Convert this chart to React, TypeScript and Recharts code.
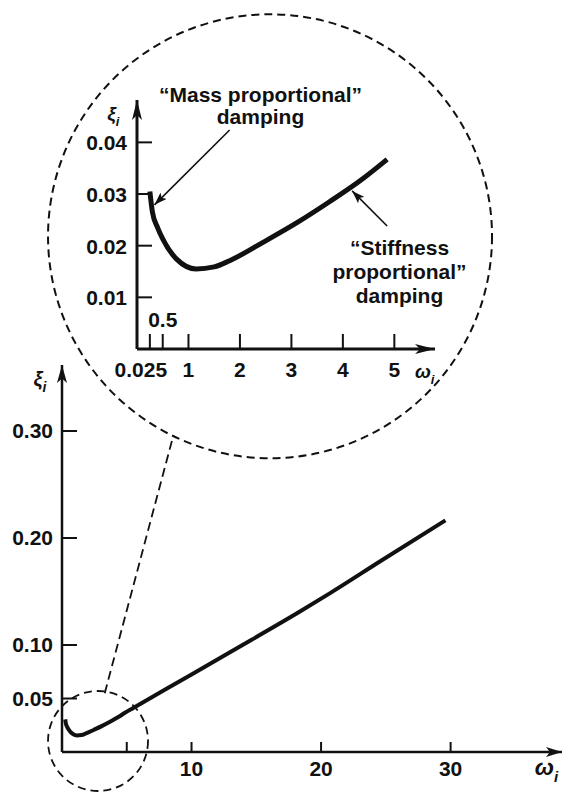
import React from "react";
import { LineChart, Line, XAxis, YAxis, ReferenceDot, ReferenceLine } from "recharts";

// Curve: frequency omega_i and damping ratio xi_i
const curveOmega = [0.25, 0.3, 0.4, 0.5, 0.77, 1.15, 1.5, 1.8, 2.44, 3.1, 3.74, 4.38, 4.86, 5.5, 10.0, 13.0, 18.4, 20.7, 24.6, 29.6];
const curveXi = [0.0305, 0.0265, 0.0235, 0.0213, 0.0174, 0.0155, 0.0159, 0.0171, 0.0206, 0.0244, 0.0285, 0.0329, 0.0367, 0.0412, 0.0725, 0.0935, 0.1315, 0.1485, 0.1785, 0.2165];
const insetOmegaMax = 4.86;

// Main chart ticks
const mainXTicks = [5, 10, 20, 30];
const mainXLabels = ["", "10", "20", "30"];
const mainYTicks = [0.05, 0.1, 0.2, 0.3];
const mainYLabels = ["0.05", "0.10", "0.20", "0.30"];

// Inset ticks
const insetXTicks = [0.25, 0.5, 1, 2, 3, 4, 5];
const insetXLabels = ["0.025", "0.5", "1", "2", "3", "4", "5"];
const insetYTicks = [0.01, 0.02, 0.03, 0.04];
const insetYLabels = ["0.01", "0.02", "0.03", "0.04"];

// Annotation texts
const massLines = ["\u201CMass proportional\u201D", "damping"];
const stiffLines = ["\u201CStiffness", "proportional\u201D", "damping"];

const mainData = curveOmega.map((w, i) => ({ w, xi: curveXi[i] }));
const insetData = mainData.filter((d) => d.w <= insetOmegaMax);

const FONT = "'Liberation Sans', Arial, Helvetica, sans-serif";
const INK = "#111";

const lab = (ticks: number[], labels: string[], v: number) => {
  const i = ticks.findIndex((t) => Math.abs(t - v) < 1e-9);
  return i >= 0 ? labels[i] : "";
};

const MainXTick = (p: any) => {
  const { x, y, payload } = p;
  const t = lab(mainXTicks, mainXLabels, payload.value);
  return (
    <g>
      <line x1={x} y1={y} x2={x} y2={y - 10} stroke={INK} strokeWidth={2} />
      {t && (
        <text x={x} y={y + 24} textAnchor="middle" fontSize={21} fontWeight="bold" fontFamily={FONT} fill={INK}>
          {t}
        </text>
      )}
    </g>
  );
};

const MainYTick = (p: any) => {
  const { x, y, payload } = p;
  const t = lab(mainYTicks, mainYLabels, payload.value);
  return (
    <g>
      <line x1={x} y1={y} x2={x + 15} y2={y} stroke={INK} strokeWidth={2} />
      <text x={x - 9} y={y + 7} textAnchor="end" fontSize={21} fontWeight="bold" fontFamily={FONT} fill={INK}>
        {t}
      </text>
    </g>
  );
};

const InsetXTick = (p: any) => {
  const { x, y, payload } = p;
  const v = payload.value;
  const t = lab(insetXTicks, insetXLabels, v);
  let tx = x;
  let ty = y + 28;
  if (Math.abs(v - 0.25) < 1e-9) tx = x - 9;
  if (Math.abs(v - 0.5) < 1e-9) ty = y - 22;
  return (
    <g>
      <line x1={x} y1={y} x2={x} y2={y - 15} stroke={INK} strokeWidth={2} />
      <text x={tx} y={ty} textAnchor="middle" fontSize={21} fontWeight="bold" fontFamily={FONT} fill={INK}>
        {t}
      </text>
    </g>
  );
};

const InsetYTick = (p: any) => {
  const { x, y, payload } = p;
  const t = lab(insetYTicks, insetYLabels, payload.value);
  return (
    <g>
      <line x1={x} y1={y} x2={x + 15} y2={y} stroke={INK} strokeWidth={2} />
      <text x={x - 10} y={y + 8} textAnchor="end" fontSize={21} fontWeight="bold" fontFamily={FONT} fill={INK}>
        {t}
      </text>
    </g>
  );
};

const arrowRight = (len: number, half: number) => (p: any) => (
  <polygon
    points={`${p.cx},${p.cy} ${p.cx - len},${p.cy - half} ${p.cx - len * 0.75},${p.cy} ${p.cx - len},${p.cy + half}`}
    fill={INK}
  />
);
const arrowUp = (len: number, half: number) => (p: any) => (
  <polygon
    points={`${p.cx},${p.cy} ${p.cx - half},${p.cy + len} ${p.cx},${p.cy + len * 0.75} ${p.cx + half},${p.cy + len}`}
    fill={INK}
  />
);

const textBlock = (lines: string[], gap: number) => (p: any) => (
  <g>
    {lines.map((l, i) => (
      <text key={i} x={p.cx} y={p.cy + i * gap} textAnchor="middle" fontSize={21} fontWeight="bold" fontFamily={FONT} fill={INK}>
        {l}
      </text>
    ))}
  </g>
);

const symLabel = (sym: string, size: number, sub: number) => (p: any) => (
  <text x={p.cx} y={p.cy} fontSize={size} fontStyle="italic" fontWeight="bold" fontFamily={FONT} fill={INK}>
    {sym}
    <tspan fontSize={sub} dy={sub * 0.45}>i</tspan>
  </text>
);

export default function App() {
  return (
    <div style={{ position: "absolute", left: 0, top: 0, width: 573, height: 793, background: "#fff" }}>
      <div style={{ position: "absolute", left: 0, top: 0 }}>
        <LineChart width={573} height={793} data={mainData} margin={{ top: 365, right: 11, bottom: 0, left: 0 }}>
          <XAxis
            dataKey="w"
            type="number"
            domain={[0, 38.6]}
            ticks={mainXTicks}
            interval={0}
            tickSize={0}
            tickMargin={0}
            tickLine={false}
            tick={<MainXTick />}
            height={41}
            axisLine={{ stroke: INK, strokeWidth: 2.5 }}
          />
          <YAxis
            type="number"
            domain={[0, 0.3617]}
            ticks={mainYTicks}
            interval={0}
            tickSize={0}
            tickMargin={0}
            tickLine={false}
            tick={<MainYTick />}
            width={62}
            axisLine={{ stroke: INK, strokeWidth: 2.5 }}
          />
          <ReferenceDot x={16.06} y={0.482} r={222} fill="none" stroke={INK} strokeWidth={2} strokeDasharray="8 5" ifOverflow="visible" />
          <ReferenceDot x={2.78} y={0.0103} r={50} fill="none" stroke={INK} strokeWidth={1.8} strokeDasharray="8 5" ifOverflow="visible" />
          <ReferenceLine
            segment={[{ x: 3.3, y: 0.055 }, { x: 8.6, y: 0.296 }]}
            stroke={INK}
            strokeWidth={1.8}
            strokeDasharray="9 5"
            ifOverflow="visible"
          />
          <Line dataKey="xi" type="monotone" stroke={INK} strokeWidth={4} dot={false} isAnimationActive={false} />
          <ReferenceDot x={38.6} y={0} r={1} shape={arrowRight(16, 5)} ifOverflow="visible" />
          <ReferenceDot x={0} y={0.3617} r={1} shape={arrowUp(18, 5)} ifOverflow="visible" />
          <ReferenceDot x={-2.2} y={0.342} r={1} shape={symLabel("\u03BE", 20, 14)} ifOverflow="visible" />
          <ReferenceDot x={36.5} y={-0.0215} r={1} shape={symLabel("\u03C9", 23, 15)} ifOverflow="visible" />
        </LineChart>
      </div>
      <div style={{ position: "absolute", left: 0, top: 0, pointerEvents: "none" }}>
        <LineChart width={573} height={400} data={insetData} margin={{ top: 100, right: 138, bottom: 0, left: 0 }}>
          <defs>
            <marker id="ah" markerWidth="13" markerHeight="9" refX="13" refY="4.5" orient="auto" markerUnits="userSpaceOnUse">
              <path d="M0,0 L13,4.5 L0,9 L3,4.5 z" fill={INK} />
            </marker>
          </defs>
          <XAxis
            dataKey="w"
            type="number"
            domain={[0, 5.79]}
            ticks={insetXTicks}
            interval={0}
            tickSize={0}
            tickMargin={0}
            tickLine={false}
            tick={<InsetXTick />}
            height={51}
            axisLine={{ stroke: INK, strokeWidth: 3 }}
          />
          <YAxis
            type="number"
            domain={[0, 0.0482]}
            ticks={insetYTicks}
            interval={0}
            tickSize={0}
            tickMargin={0}
            tickLine={false}
            tick={<InsetYTick />}
            width={137}
            axisLine={{ stroke: INK, strokeWidth: 3 }}
          />
          <Line dataKey="xi" type="monotone" stroke={INK} strokeWidth={5} dot={false} isAnimationActive={false} />
          <ReferenceDot x={5.79} y={0} r={1} shape={arrowRight(20, 5)} ifOverflow="visible" />
          <ReferenceDot x={0} y={0.0482} r={1} shape={arrowUp(20, 5)} ifOverflow="visible" />
          <ReferenceDot x={-0.58} y={0.0443} r={1} shape={symLabel("\u03BE", 19, 13)} ifOverflow="visible" />
          <ReferenceDot x={5.4} y={-0.0056} r={1} shape={symLabel("\u03C9", 19, 13)} ifOverflow="visible" />
          <ReferenceLine
            segment={[{ x: 1.8, y: 0.0424 }, { x: 0.34, y: 0.0279 }]}
            stroke={INK}
            strokeWidth={1.6}
            markerEnd="url(#ah)"
            ifOverflow="visible"
          />
          <ReferenceLine
            segment={[{ x: 4.86, y: 0.0238 }, { x: 4.18, y: 0.0306 }]}
            stroke={INK}
            strokeWidth={1.6}
            markerEnd="url(#ah)"
            ifOverflow="visible"
          />
          <ReferenceDot x={2.4} y={0.0478} r={1} shape={textBlock(massLines, 22)} ifOverflow="visible" />
          <ReferenceDot x={5.1} y={0.0182} r={1} shape={textBlock(stiffLines, 24)} ifOverflow="visible" />
        </LineChart>
      </div>
    </div>
  );
}
